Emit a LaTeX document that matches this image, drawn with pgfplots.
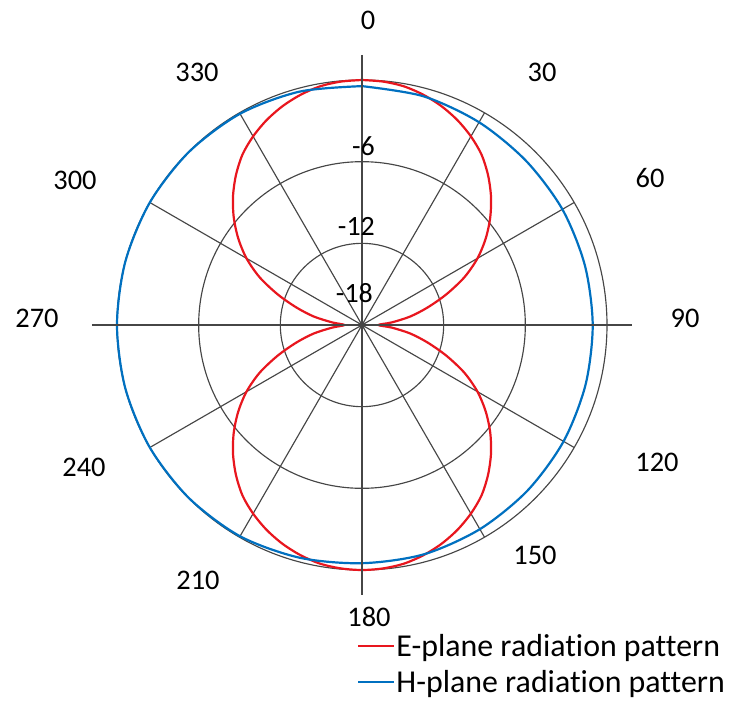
\documentclass[border=0pt]{standalone}
\usepackage{pgfplots}
\pgfplotsset{compat=1.18}
\usepackage{pgfplotstable}
\usepgfplotslibrary{polar}
\usepackage{fontspec}
\setmainfont{Carlito}[Ligatures=NoCommon]
\definecolor{ered}{RGB}{232,22,30}
\definecolor{hblue}{RGB}{0,112,192}
\definecolor{gridc}{RGB}{70,70,70}

% E-plane: angle (deg, clockwise from top), level (dB)
\pgfplotstableread{
a db
0 0.0
5 -0.05
10 -0.2
15 -0.5
20 -0.9
25 -1.4
30 -2.0
35 -2.7
40 -3.6
45 -4.6
50 -5.7
55 -6.9
60 -8.2
65 -9.7
70 -11.4
75 -13.0
80 -14.4
85 -15.8
90 -16.8
95 -15.8
100 -14.4
105 -13.0
110 -11.4
115 -9.7
120 -8.2
125 -6.9
130 -5.7
135 -4.6
140 -3.6
145 -2.7
150 -2.0
155 -1.4
160 -0.9
165 -0.5
170 -0.2
175 -0.05
180 0.0
185 -0.05
190 -0.2
195 -0.5
200 -0.9
205 -1.4
210 -2.0
215 -2.7
220 -3.6
225 -4.6
230 -5.7
235 -6.9
240 -8.2
245 -9.7
250 -11.4
255 -13.0
260 -14.4
265 -15.8
270 -16.7
275 -15.8
280 -14.4
285 -13.0
290 -11.4
295 -9.7
300 -8.2
305 -6.9
310 -5.7
315 -4.6
320 -3.6
325 -2.7
330 -2.0
335 -1.4
340 -0.9
345 -0.5
350 -0.2
355 -0.05
360 0.0
}\Etab

% H-plane
\pgfplotstableread{
a db
0 -0.45
15 -0.6
30 -0.8
45 -0.95
60 -1.0
75 -1.05
90 -1.05
105 -1.0
120 -0.9
135 -0.8
150 -0.68
165 -0.55
180 -0.5
195 -0.3
210 -0.08
225 -0.02
240 0
255 0
270 0
285 0
300 0
315 -0.02
330 -0.08
345 -0.25
360 -0.45
}\Htab

\begin{document}
\begin{tikzpicture}
\path[use as bounding box] (-362bp,325bp) rectangle (374bp,-382bp);
\begin{polaraxis}[
  at={(0,0)}, anchor=center,
  scale only axis, width=490bp, height=490bp,
  xmin=0, xmax=360, ymin=0, ymax=18,
  clip=false,
  xtick={0,30,...,330},
  xticklabels={},
  ytick={6,12},
  yticklabels={},
  major tick length=0pt,
  grid=major,
  major grid style={draw=gridc, line width=1.15bp},
  axis line style={draw=gridc, line width=1.15bp},
  legend style={draw=none, fill=none, at={(0.490,-0.128)}, anchor=north west,
    font=\fontsize{32}{40}\selectfont, row sep=11bp, inner sep=0pt,
    nodes={inner sep=1bp}},
  legend cell align=left,
  legend image code/.code={\draw[#1] (0bp,0bp) -- (36bp,0bp);},
]
\addplot[ered, line width=2.2bp, smooth] table[x expr={90-\thisrow{a}}, y expr={\thisrow{db}+18}] {\Etab};
\addlegendentry{E-plane radiation pattern}
\addplot[hblue, line width=2.2bp, smooth] table[x expr={90-\thisrow{a}}, y expr={\thisrow{db}+18}] {\Htab};
\addlegendentry{H-plane radiation pattern}
\end{polaraxis}
% extended cross axes through the centre
\draw[gridc, line width=1.15bp] (-270bp,0) -- (270bp,0);
\draw[gridc, line width=1.15bp] (0,270bp) -- (0,-270bp);
% radial value labels
\begin{scope}[every node/.style={anchor=east, inner sep=0pt, font=\fontsize{28}{34}\selectfont}]
\node at (13bp,179bp) {-6};
\node at (13bp,99bp) {-12};
\node at (11bp,32bp) {-18};
\end{scope}
% angle labels
\begin{scope}[every node/.style={inner sep=0pt, font=\fontsize{28.5}{34}\selectfont}]
\node at (6bp,305bp) {0};
\node at (180bp,253bp) {30};
\node at (288bp,147bp) {60};
\node at (323bp,7bp) {90};
\node at (295bp,-137bp) {120};
\node at (173bp,-230bp) {150};
\node at (7bp,-292bp) {180};
\node at (-164bp,-255bp) {210};
\node at (-278bp,-142bp) {240};
\node at (-325bp,7bp) {270};
\node at (-287bp,145bp) {300};
\node at (-165bp,253bp) {330};
\end{scope}
\end{tikzpicture}
\end{document}
